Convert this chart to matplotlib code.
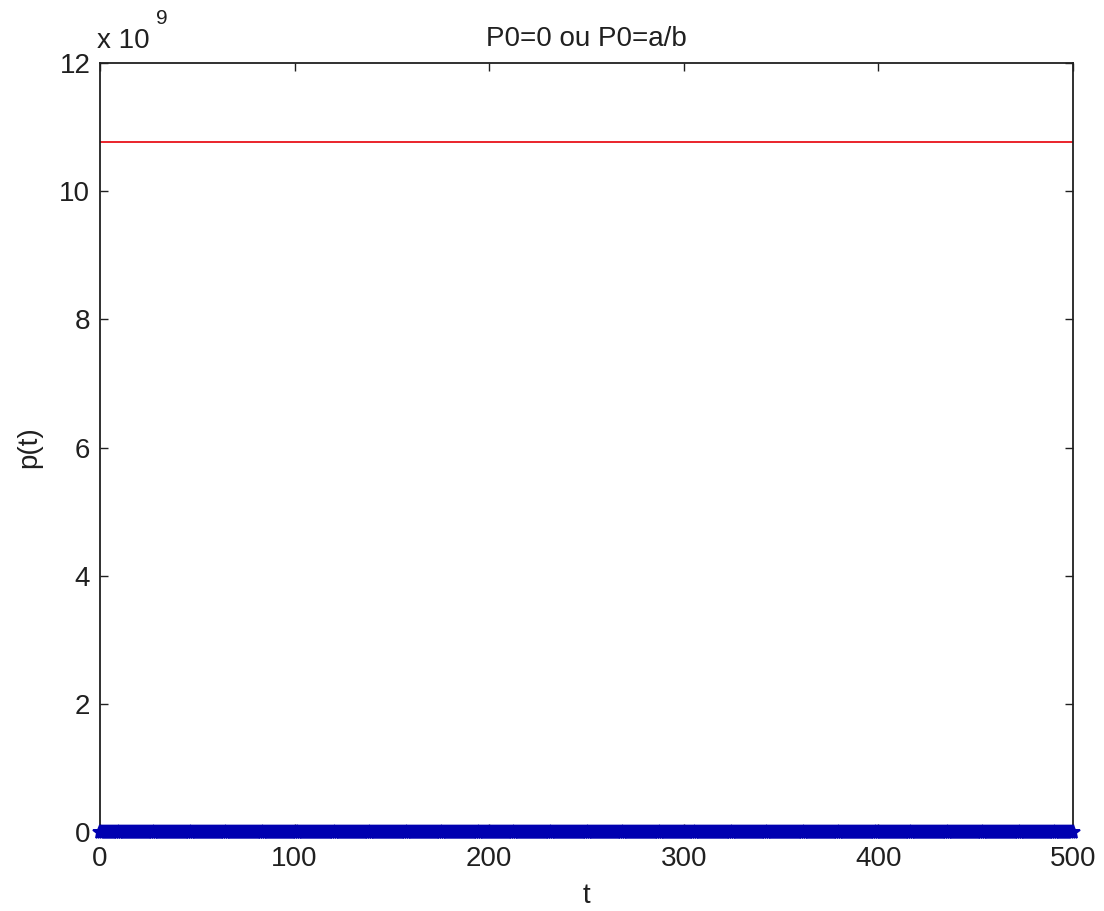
import numpy as np
import matplotlib.pyplot as plt
from matplotlib.ticker import FuncFormatter

plt.rcParams["font.family"] = ["Liberation Sans", "DejaVu Sans"]

# p(t) for P0 = 0 : stays at zero over the whole run
t_zero = np.arange(0, 501)
p_zero = np.zeros(len(t_zero))

# p(t) for P0 = a/b : constant equilibrium value
t_eq = [0, 500]
p_eq = [1.077e10, 1.077e10]

x_ticks = [0, 100, 200, 300, 400, 500]
y_ticks = [0, 2e9, 4e9, 6e9, 8e9, 10e9, 12e9]

FS = 20
INK = "#202020"

fig = plt.figure(figsize=(11.04, 9.11), dpi=100)
ax = fig.add_axes([100 / 1104, 79 / 911, 973 / 1104, 769 / 911])

ax.plot(t_eq, p_eq, color="#e8121a", linewidth=1.3, zorder=2)
ax.plot(t_zero, p_zero, color="#0000b0", linewidth=1.5, marker="*",
        markersize=10, markeredgewidth=1.4, clip_on=False, zorder=3)

ax.set_xlim(0, 500)
ax.set_ylim(0, 12e9)
ax.set_xticks(x_ticks)
ax.set_yticks(y_ticks)
ax.yaxis.set_major_formatter(FuncFormatter(lambda v, pos: f"{v / 1e9:g}"))

ax.tick_params(direction="in", length=6, width=1.0, top=True, right=True,
               labelsize=FS, colors=INK)
ax.tick_params(axis="x", pad=10)
ax.tick_params(axis="y", pad=7)
for sp in ax.spines.values():
    sp.set_linewidth(1.3)
    sp.set_color(INK)

ax.set_title("P0=0 ou P0=a/b", fontsize=FS, color=INK, pad=12)
ax.set_xlabel("t", fontsize=FS, color=INK, labelpad=8)
ax.set_ylabel("p(t)", fontsize=FS, color=INK, labelpad=12)

# exponent label above the y axis
ax.text(-0.003, 1.012, "x 10", transform=ax.transAxes, fontsize=FS,
        color=INK, ha="left", va="bottom")
ax.text(0.058, 1.045, "9", transform=ax.transAxes, fontsize=FS - 5,
        color=INK, ha="left", va="bottom")

fig.savefig("out.png", dpi=100, facecolor="white")
